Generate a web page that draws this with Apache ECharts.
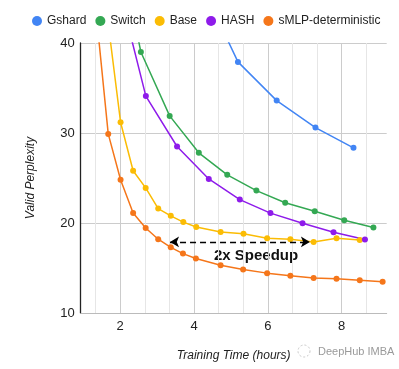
<!DOCTYPE html>
<html>
<head>
<meta charset="utf-8">
<script src="https://cdn.jsdelivr.net/npm/echarts@6/dist/echarts.min.js"></script>
<style>html,body{margin:0;padding:0;background:#fff;}#c{width:399px;height:369px;}</style>
</head>
<body>
<div id="c"></div>
<script>
var seriesNames = ['Gshard', 'Switch', 'Base', 'HASH', 'sMLP-deterministic'];
var seriesColors = ['#4285F4', '#34A853', '#FBBC04', '#8E1BEA', '#F5761A'];

var gshard = [[4.14, 47], [5.19, 37.9], [6.24, 33.6], [7.29, 30.6], [8.32, 28.35]];
var switchData = [[1.77, 55], [2.56, 39.0], [3.34, 31.9], [4.13, 27.8], [4.90, 25.35], [5.69, 23.6], [6.47, 22.25], [7.27, 21.3], [8.07, 20.3], [8.86, 19.5]];
var base = [[1.68, 42], [2.01, 31.2], [2.35, 25.8], [2.69, 23.9], [3.03, 21.6], [3.37, 20.8], [3.71, 20.1], [4.06, 19.55], [4.72, 19.0], [5.34, 18.8], [5.98, 18.3], [6.61, 18.2], [7.24, 17.9], [7.86, 18.3], [8.49, 18.1]];
var hash = [[1.85, 47.9], [2.695, 34.1], [3.54, 28.5], [4.40, 24.9], [5.24, 22.6], [6.07, 21.1], [6.94, 19.97], [7.78, 18.97], [8.63, 18.16]];
var smlp = [[1.34, 43.7], [1.676, 29.9], [2.01, 24.8], [2.35, 21.1], [2.69, 19.45], [3.03, 18.2], [3.37, 17.3], [3.70, 16.6], [4.05, 16.05], [4.72, 15.3], [5.33, 14.84], [5.98, 14.43], [6.61, 14.13], [7.24, 13.9], [7.86, 13.8], [8.49, 13.65], [9.11, 13.47]];

var xMajorTicks = [2, 4, 6, 8];
var xMinorTicks = [1.3333, 2.6667, 3.3333, 4.6667, 5.3333, 6.6667, 7.3333, 8.6667];
var speedupArrow = [[3.35, 17.9], [7.14, 17.9]];
var annotationText = '2x Speedup';

var allData = [gshard, switchData, base, hash, smlp];
var FONT = 'Liberation Sans, Arial, sans-serif';

var series = seriesNames.map(function (n, i) {
  return {
    name: n,
    type: 'line',
    xAxisIndex: 0,
    data: allData[i],
    symbol: 'circle',
    symbolSize: 6,
    showSymbol: true,
    clip: true,
    lineStyle: { width: 1.5, color: seriesColors[i] },
    itemStyle: { color: seriesColors[i] },
    emphasis: { disabled: true },
    z: 3
  };
});
series[4].markLine = {
  silent: true,
  symbol: ['arrow', 'arrow'],
  symbolSize: [8, 9],
  lineStyle: { type: [6, 4], color: '#000', width: 1.4 },
  label: { show: false },
  data: [[{ coord: speedupArrow[0] }, { coord: speedupArrow[1] }]]
};

var chart = echarts.init(document.getElementById('c'), null, { renderer: 'canvas' });
chart.setOption({
  animation: false,
  backgroundColor: '#fff',
  textStyle: { fontFamily: FONT },
  legend: {
    data: seriesNames,
    left: 27,
    top: 10,
    width: 380,
    orient: 'horizontal',
    icon: 'circle',
    itemWidth: 10,
    itemHeight: 10,
    itemGap: 9,
    textStyle: { fontSize: 12, color: '#222', fontFamily: FONT }
  },
  grid: { left: 80.7, right: 12.3, top: 43, bottom: 56, containLabel: false },
  xAxis: [{
    type: 'value',
    min: 0.93,
    max: 9.22,
    name: 'Training Time (hours)',
    nameLocation: 'middle',
    nameGap: 37,
    nameTextStyle: { fontStyle: 'italic', fontSize: 12, color: '#222', fontFamily: FONT },
    axisLine: { show: true, onZero: false, lineStyle: { color: '#bbb', width: 1 } },
    axisTick: { show: false, customValues: xMajorTicks },
    axisLabel: { customValues: xMajorTicks, fontSize: 13, color: '#222', margin: 7, fontFamily: FONT },
    splitLine: { show: true, lineStyle: { color: '#cccccc', width: 1 } }
  }, {
    type: 'value',
    min: 0.93,
    max: 9.22,
    position: 'bottom',
    axisLine: { show: false },
    axisTick: { show: false, customValues: xMinorTicks },
    axisLabel: { show: false },
    splitLine: { show: true, lineStyle: { color: '#e6e6e6', width: 1 } }
  }],
  yAxis: {
    type: 'value',
    min: 10,
    max: 40,
    interval: 10,
    name: 'Valid Perplexity',
    nameLocation: 'middle',
    nameGap: 44,
    nameTextStyle: { fontStyle: 'italic', fontSize: 12, color: '#222', fontFamily: FONT },
    axisLine: { show: true, lineStyle: { color: '#222', width: 1.3 } },
    axisTick: { show: false },
    axisLabel: { fontSize: 13, color: '#222', margin: 6, fontFamily: FONT },
    splitLine: { show: true, lineStyle: { color: '#cccccc', width: 1 } }
  },
  series: series,
  graphic: [{
    type: 'text',
    left: 214,
    top: 248,
    silent: true,
    style: { text: annotationText, fontSize: 15, fontWeight: 'bold', fill: '#111', fontFamily: FONT }
  }, {
    type: 'circle',
    shape: { cx: 304, cy: 351, r: 6 },
    silent: true,
    style: { fill: 'none', stroke: '#c8c8c8', lineWidth: 1, lineDash: [2, 2] }
  }, {
    type: 'text',
    left: 318,
    top: 346,
    silent: true,
    style: { text: 'DeepHub IMBA', fontSize: 11, fill: '#9a9a9a', fontFamily: FONT }
  }]
});
</script>
</body>
</html>
